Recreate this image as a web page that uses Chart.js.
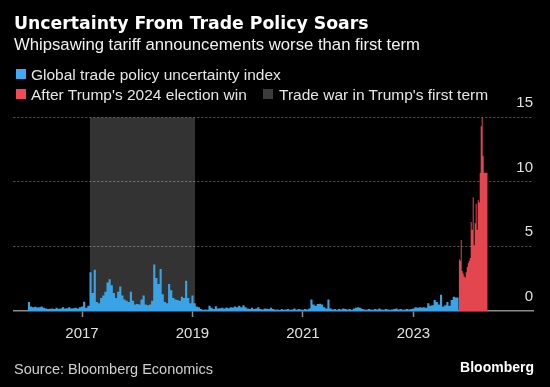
<!DOCTYPE html>
<html>
<head>
<meta charset="utf-8">
<script src="https://cdn.jsdelivr.net/npm/chart.js@4.4.1/dist/chart.umd.min.js"></script>
<style>
  html, body { margin: 0; padding: 0; background: #000; }
  #wrap { position: relative; width: 550px; height: 387px; background: #000; overflow: hidden; }
  canvas { position: absolute; left: 0; top: 0; }
  .t { position: absolute; white-space: nowrap; line-height: 1; }
  #title { left: 14px; top: 13.4px; font: bold 17.3px "DejaVu Sans"; color: #fff; }
  #sub { left: 14px; top: 35px; font: 16.7px "Liberation Sans"; color: #f2f2f2; }
  .leg { font: 15.5px "Liberation Sans"; color: #e6e6e6; }
  .sq { position: absolute; width: 10px; height: 10px; }
  #src { left: 14px; top: 360.7px; font: 14.5px "Liberation Sans"; color: #d0d0d0; }
  #logo { right: 16px; top: 359.2px; font: bold 14px "Liberation Sans"; color: #fff; }
</style>
</head>
<body>
<div id="wrap">
  <canvas id="c" width="550" height="387"></canvas>
  <div class="t" id="title">Uncertainty From Trade Policy Soars</div>
  <div class="t" id="sub">Whipsawing tariff announcements worse than first term</div>
  <div class="sq" style="left:16px; top:68.5px; background:#3fa9f5"></div>
  <div class="t leg" style="left:31px; top:65.8px">Global trade policy uncertainty index</div>
  <div class="sq" style="left:16px; top:89px; background:#f04b55"></div>
  <div class="t leg" style="left:31px; top:85.9px">After Trump's 2024 election win</div>
  <div class="sq" style="left:263px; top:89px; background:#3c3c3c"></div>
  <div class="t leg" style="left:279px; top:85.9px">Trade war in Trump's first term</div>
  <div class="t" id="src">Source: Bloomberg Economics</div>
  <div class="t" id="logo">Bloomberg</div>
</div>
<script>
// ---- data ----
const blueStart = 2016.02;      // first observation (fractional year)
const blueStep = 1 / 26;        // spacing between observations (years)
const blueValues = [
  0.33, 0.7, 0.35, 0.3, 0.32, 0.28, 0.3, 0.35, 0.25, 0.2,
  0.15, 0.18, 0.2, 0.15, 0.25, 0.18, 0.2, 0.3, 0.2, 0.22,
  0.3, 0.2, 0.22, 0.25, 0.2, 0.3, 0.35, 0.72, 0.25, 0.4,
  3.0, 1.4, 3.2, 0.7, 0.6, 1.0, 1.2, 1.5, 2.2, 2.45,
  2.0, 1.4, 1.0, 1.5, 1.9, 1.2, 0.9, 0.8, 0.7, 1.5,
  0.8, 0.5, 0.55, 0.5, 0.9, 1.2, 0.5, 0.45, 0.5, 0.8,
  3.6, 2.55, 2.1, 3.25, 1.3, 0.7, 0.6, 2.1, 1.6, 1.0,
  0.9, 0.85, 0.8, 1.1, 1.0, 2.35, 1.0, 0.6, 1.2, 0.6,
  0.35, 0.3, 0.15, 0.1, 0.12, 0.1, 0.4, 0.25, 0.15, 0.36,
  0.2, 0.22, 0.25, 0.2, 0.28, 0.22, 0.3, 0.28, 0.35, 0.3,
  0.4, 0.3, 0.45, 0.3, 0.2, 0.15, 0.25, 0.15, 0.2, 0.3,
  0.15, 0.12, 0.2, 0.18, 0.15, 0.25, 0.15, 0.1, 0.12, 0.08,
  0.15, 0.1, 0.12, 0.15, 0.1, 0.12, 0.2, 0.1, 0.15, 0.12,
  0.1, 0.15, 0.12, 0.2, 0.9, 0.5, 0.4, 0.55, 0.57, 0.5,
  0.3, 0.2, 0.9, 0.2, 0.12, 0.15, 0.1, 0.15, 0.12, 0.2,
  0.15, 0.12, 0.15, 0.1, 0.2, 0.25, 0.3, 0.25, 0.15, 0.12,
  0.1, 0.15, 0.12, 0.1, 0.15, 0.12, 0.2, 0.12, 0.1, 0.15,
  0.12, 0.1, 0.12, 0.15, 0.2, 0.12, 0.15, 0.1, 0.12, 0.15,
  0.12, 0.15, 0.2, 0.3, 0.25, 0.3, 0.28, 0.3, 0.25, 0.6,
  0.4, 0.45, 0.85, 0.7, 0.5, 1.25, 0.35, 0.45, 0.7, 0.4,
  0.85, 1.1, 1.05
];
const redStart = 2023.821;      // after the election win
const redStep = 1 / 55.3;
const redValues = [
  4.4, 4.0, 3.9, 5.5, 3.1, 2.9, 2.7, 2.6, 3.0, 3.4,
  3.7, 3.9, 4.1, 6.9, 6.3, 8.8, 5.1, 6.8, 8.3, 6.3,
  8.6, 8.4, 10.7, 14.3, 15.0, 12.0, 10.7, 10.7, 10.7
];
const bandStart = 2017.14;      // trade war period
const bandEnd = 2019.05;
const bandTop = 15;
const xTicks = [2017, 2019, 2021, 2023];
const yTicks = [0, 5, 10, 15];
const xMin = 2015.756, xMax = 2025.166;
const yMin = 0, yMax = 15;

// ---- build point tables ----
const bluePts = blueValues.map((v, i) => ({ x: blueStart + i * blueStep, y: v }));
bluePts.push({ x: redStart, y: blueValues[blueValues.length - 1] });
const redPts = redValues.map((v, i) => ({ x: redStart + i * redStep, y: v }));
redPts.push({ x: redStart + redValues.length * redStep, y: redValues[redValues.length - 1] });
const bandPts = [{ x: bandStart, y: bandTop }, { x: bandEnd, y: bandTop }];

Chart.defaults.font.family = '"Liberation Sans"';

new Chart(document.getElementById('c'), {
  type: 'line',
  data: {
    datasets: [
      { label: 'Global trade policy uncertainty index', data: bluePts, stepped: 'after',
        fill: 'origin', backgroundColor: '#3aa3e6', borderColor: '#2f8fd0', borderWidth: 0, pointRadius: 0 },
      { label: "After Trump's 2024 election win", data: redPts, stepped: 'after',
        fill: 'origin', backgroundColor: '#e4464f', borderColor: '#b8333c', borderWidth: 0, pointRadius: 0 },
      { label: "Trade war in Trump's first term", data: bandPts,
        fill: 'origin', backgroundColor: 'rgba(255,255,255,0.2)', borderWidth: 0, pointRadius: 0 }
    ]
  },
  options: {
    responsive: false,
    animation: false,
    devicePixelRatio: 1,
    layout: { padding: { left: 13.3, right: 17, top: 117.3, bottom: 0 } },
    plugins: { legend: { display: false }, tooltip: { enabled: false } },
    elements: { point: { radius: 0 }, line: { tension: 0 } },
    scales: {
      x: {
        type: 'linear', min: xMin, max: xMax,
        afterBuildTicks: s => { s.ticks = xTicks.map(v => ({ value: v })); },
        afterFit: s => { s.height = 76; },
        grid: { display: true, drawOnChartArea: false, drawTicks: true, tickLength: 6,
                color: '#8c8c8c', tickColor: '#8c8c8c', tickWidth: 1.5 },
        border: { display: true, color: '#8c8c8c', width: 1.5 },
        ticks: { color: '#e0e0e0', font: { size: 15 }, padding: 8, maxRotation: 0,
                 autoSkip: false, callback: v => String(v) }
      },
      y: {
        position: 'right', min: yMin, max: yMax,
        afterBuildTicks: s => { s.ticks = yTicks.map(v => ({ value: v })); },
        afterFit: s => { s.width = 0; },
        grid: { drawTicks: false, lineWidth: 1,
                color: c => (c.tick && c.tick.value === 0) ? 'rgba(0,0,0,0)' : 'rgba(255,255,255,0.35)' },
        border: { display: false, dash: [2, 2] },
        ticks: { mirror: true, padding: 0, labelOffset: -14.5, color: '#e0e0e0', font: { size: 15 } }
      }
    }
  }
});
</script>
</body>
</html>
